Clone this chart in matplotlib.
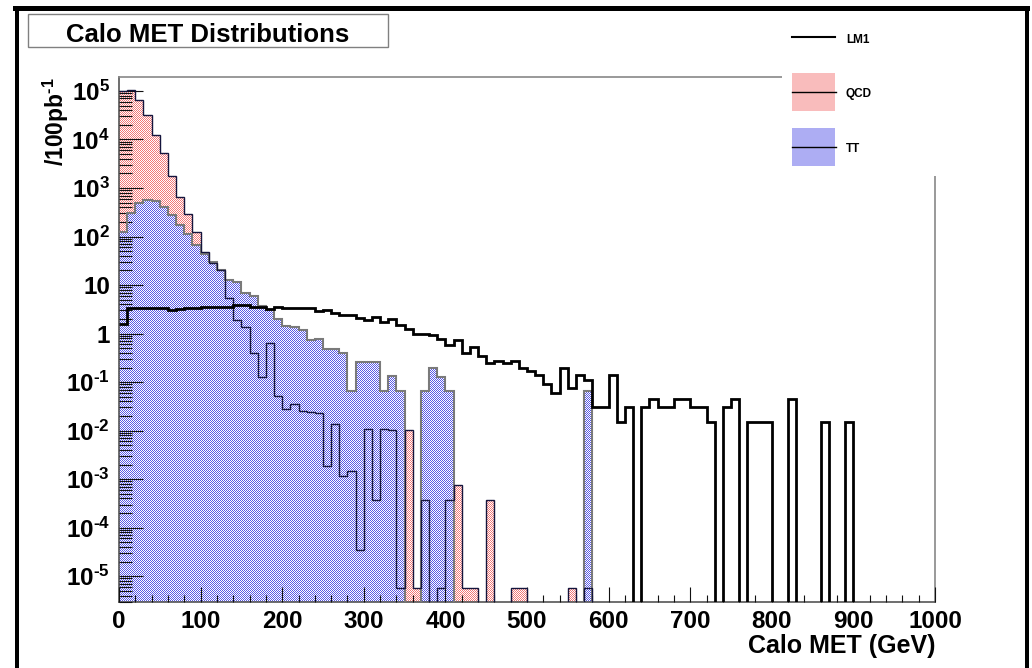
import numpy as np
import matplotlib
matplotlib.use("Agg")
import matplotlib.pyplot as plt
from matplotlib.patches import Rectangle
from matplotlib.lines import Line2D
from matplotlib.ticker import FixedLocator, LogLocator, MultipleLocator, FuncFormatter, NullFormatter

plt.rcParams['font.family'] = ['Liberation Sans', 'DejaVu Sans']
plt.rcParams['font.weight'] = 'bold'
plt.rcParams['mathtext.fontset'] = 'custom'
plt.rcParams['mathtext.rm'] = 'Liberation Sans:bold'
plt.rcParams['mathtext.bf'] = 'Liberation Sans:bold'
plt.rcParams['mathtext.it'] = 'Liberation Sans:bold'

# --- data: events / 100 pb^-1 in 10 GeV bins of Calo MET (0-1000 GeV) ---
edges = np.arange(0, 1001, 10)

lm1 = [1.6, 3.4, 3.4, 3.35, 3.35, 3.35, 3.0, 3.2, 3.3, 3.35,
       3.45, 3.55, 3.5, 3.55, 3.9, 3.85, 3.6, 3.6, 3.25, 3.6,
       3.4, 3.3, 3.3, 3.3, 2.9, 3.1, 2.6, 2.45, 2.45, 2.1,
       1.95, 2.15, 1.7, 1.97, 1.5, 1.25, 1.0, 1.0, 0.92, 0.78,
       0.57, 0.75, 0.40, 0.53, 0.34, 0.248, 0.27, 0.248, 0.27, 0.20,
       0.17, 0.138, 0.09, 0.06, 0.20, 0.077, 0.138, 0.113, 0.031, 0.031,
       0.138, 0.0151, 0.031, 0, 0.031, 0.0458, 0.031, 0.031, 0.0458, 0.0458,
       0.031, 0.031, 0.0151, 0, 0.031, 0.0458, 0, 0.0151, 0.0151, 0.0151,
       0, 0, 0.0458, 0, 0, 0, 0.0151, 0, 0, 0.0151,
       0, 0, 0, 0, 0, 0, 0, 0, 0, 0]

qcd = [9.8e4, 1.03e5, 6.4e4, 3.15e4, 1.22e4, 5.3e3, 1.8e3, 665, 287, 124,
       48, 29, 20, 5.3, 1.94, 1.37, 0.39, 0.128, 0.64, 0.051,
       0.0285, 0.035, 0.0255, 0.0243, 0.0235, 0.0019, 0.0135, 0.00115, 0.0015, 3.4e-5,
       0.0107, 3.8e-4, 0.011, 0.0102, 5.6e-6, 0.0105, 5.6e-6, 3.8e-4, 0, 5.6e-6,
       3.7e-4, 7.5e-4, 5.6e-6, 5.6e-6, 0, 3.7e-4, 0, 0, 5.6e-6, 5.6e-6,
       0, 0, 0, 0, 0, 5.6e-6, 0, 5.6e-6, 0, 0,
       0, 0, 0, 0, 0, 0, 0, 0, 0, 0,
       0, 0, 0, 0, 0, 0, 0, 0, 0, 0,
       0, 0, 0, 0, 0, 0, 0, 0, 0, 0,
       0, 0, 0, 0, 0, 0, 0, 0, 0, 0]

tt = [124, 305, 490, 576, 540, 407, 274, 170, 111, 66,
      44.6, 30, 20.8, 13.0, 11.6, 6.7, 5.9, 3.65, 3.0, 2.0,
      1.45, 1.36, 1.2, 0.73, 0.79, 0.47, 0.47, 0.39, 0.065, 0.26,
      0.26, 0.26, 0.065, 0.132, 0.065, 0, 0, 0.065, 0.2, 0.13,
      0.065, 0, 0, 0, 0, 0, 0, 0, 0, 0,
      0, 0, 0, 0, 0, 0, 0, 0.065, 0, 0,
      0, 0, 0, 0, 0, 0, 0, 0, 0, 0,
      0, 0, 0, 0, 0, 0, 0, 0, 0, 0,
      0, 0, 0, 0, 0, 0, 0, 0, 0, 0,
      0, 0, 0, 0, 0, 0, 0, 0, 0, 0]

W, H = 1032, 668
TINY = 1e-12
AX_L, AX_R, AX_T, AX_B = 119, 935, 77, 602
HY = '\u2010'  # short hyphen like ROOT's exponent sign

def fx(x):
    return x / W

def fy(y):
    return 1 - y / H

def clean(v):
    v = np.array(v, dtype=float)
    v[v <= 0] = TINY
    return v

def pattern(h, w, rgb):
    # ROOT-like dotted fill: every other pixel coloured
    img = np.zeros((h, w, 4))
    yy, xx = np.mgrid[0:h, 0:w]
    on = (xx + yy) % 2 == 0
    img[on, :3] = np.array(rgb) / 255.
    img[on, 3] = 1
    return img

def blend(rgb):
    return tuple((c + 255) / 510. for c in rgb)

fig = plt.figure(figsize=(W / 100, H / 100), dpi=100)
ax = fig.add_axes([fx(AX_L), 1 - AX_B / H, (AX_R - AX_L) / W, (AX_B - AX_T) / H])
ax.set_yscale('log')

RED = (242, 120, 120)
BLUE = (90, 90, 230)

def patterned(values, rgb, z):
    clip = ax.stairs(clean(values), edges, baseline=TINY, fill=True, visible=False)
    im = ax.imshow(pattern(AX_B - AX_T, AX_R - AX_L, rgb), extent=[0, 1, 0, 1],
                   transform=ax.transAxes, interpolation='nearest', aspect='auto', zorder=z)
    im.set_clip_path(clip)

patterned(qcd, RED, 1)
patterned(tt, BLUE, 2)
ax.stairs(clean(tt), edges, baseline=None, color='#7a7a7a', lw=1.5, zorder=3)
ax.stairs(clean(qcd), edges, baseline=None, color='#14143c', lw=1.0, zorder=4)
ax.stairs(clean(lm1), edges, baseline=None, color='black', lw=2.0, zorder=5)

ax.set_xlim(0, 1000)
ax.set_ylim(10 ** -5.531, 10 ** 5.287)

for side in ['left', 'bottom']:
    ax.spines[side].set_color('#555555')
for side in ['top', 'right']:
    ax.spines[side].set_color('#888888')
for s in ax.spines.values():
    s.set_linewidth(1.2)

ax.xaxis.set_major_locator(MultipleLocator(100))
ax.xaxis.set_minor_locator(MultipleLocator(20))
ax.yaxis.set_major_locator(FixedLocator([10.0 ** e for e in range(-5, 6)]))
ax.yaxis.set_minor_locator(LogLocator(base=10, subs=np.arange(2, 10), numticks=20))
ax.yaxis.set_minor_formatter(NullFormatter())

def ylab(v, pos):
    e = int(round(np.log10(v)))
    if e == 0:
        return '1'
    if e == 1:
        return '10'
    sup = str(e).replace('-', HY)
    return r'$\mathbf{10^{%s}}$' % sup

ax.yaxis.set_major_formatter(FuncFormatter(ylab))
ax.set_axisbelow(False)
ax.tick_params(axis='both', which='both', direction='in', top=False, right=False,
               color='#111111', width=0.8, labelsize=17.5)
ax.tick_params(axis='y', which='major', length=17.5, pad=6.5)
ax.tick_params(axis='y', which='minor', length=9)
ax.tick_params(axis='x', which='major', length=11, pad=5.5)
ax.tick_params(axis='x', which='minor', length=5)

# axis titles
fig.text(fx(935), fy(646), 'Calo MET (GeV)', ha='right', va='center', fontsize=18, fontweight='bold')
fig.text(fx(56), fy(77), r'/100pb$^{\mathbf{%s1}}$' % HY, rotation=90, ha='center', va='top',
         fontsize=16.5, fontweight='bold')

# title box
fig.add_artist(Rectangle((fx(27.5), fy(47)), (388 - 27.5) / W, 33 / H, transform=fig.transFigure,
                         fc='white', ec='#808080', lw=1, zorder=2))
fig.text(fx(208), fy(42), 'Calo MET Distributions', ha='center', va='baseline',
         fontsize=18.5, fontweight='bold', zorder=3)

# legend (white box hides the frame corner)
fig.add_artist(Rectangle((fx(782), fy(176)), (1020 - 782) / W, (176 - 12) / H,
                         transform=fig.transFigure, fc='white', ec='none', zorder=2))
fig.add_artist(Line2D([fx(792), fx(835)], [fy(37.3), fy(37.3)], color='black', lw=1.5, zorder=4))
fig.text(fx(846), fy(40), 'LM1', ha='left', va='center', fontsize=8.5, fontweight='bold', zorder=4)
for top, bot, rgb, name in [(73, 111, RED, 'QCD'), (128, 166, BLUE, 'TT')]:
    fig.add_artist(Rectangle((fx(792), fy(bot)), 43 / W, (bot - top) / H, transform=fig.transFigure,
                             fc=blend(rgb), ec='none', zorder=3))
    mid = (top + bot) / 2
    fig.add_artist(Line2D([fx(792), fx(836)], [fy(mid), fy(mid)], color='black', lw=1, zorder=4))
    fig.text(fx(846), fy(mid + 2), name, ha='left', va='center',
             fontsize=8.5, fontweight='bold', zorder=4)

# canvas border
fig.add_artist(Rectangle((fx(13), fy(10.5)), (1030 - 13) / W, 4.5 / H, transform=fig.transFigure,
                         fc='black', ec='none', zorder=5))
fig.add_artist(Rectangle((fx(14.5), 0), 4 / W, fy(6), transform=fig.transFigure,
                         fc='black', ec='none', zorder=5))
fig.add_artist(Rectangle((fx(1025), 0), 4 / W, fy(6), transform=fig.transFigure,
                         fc='black', ec='none', zorder=5))

fig.savefig('out.png', dpi=100)
